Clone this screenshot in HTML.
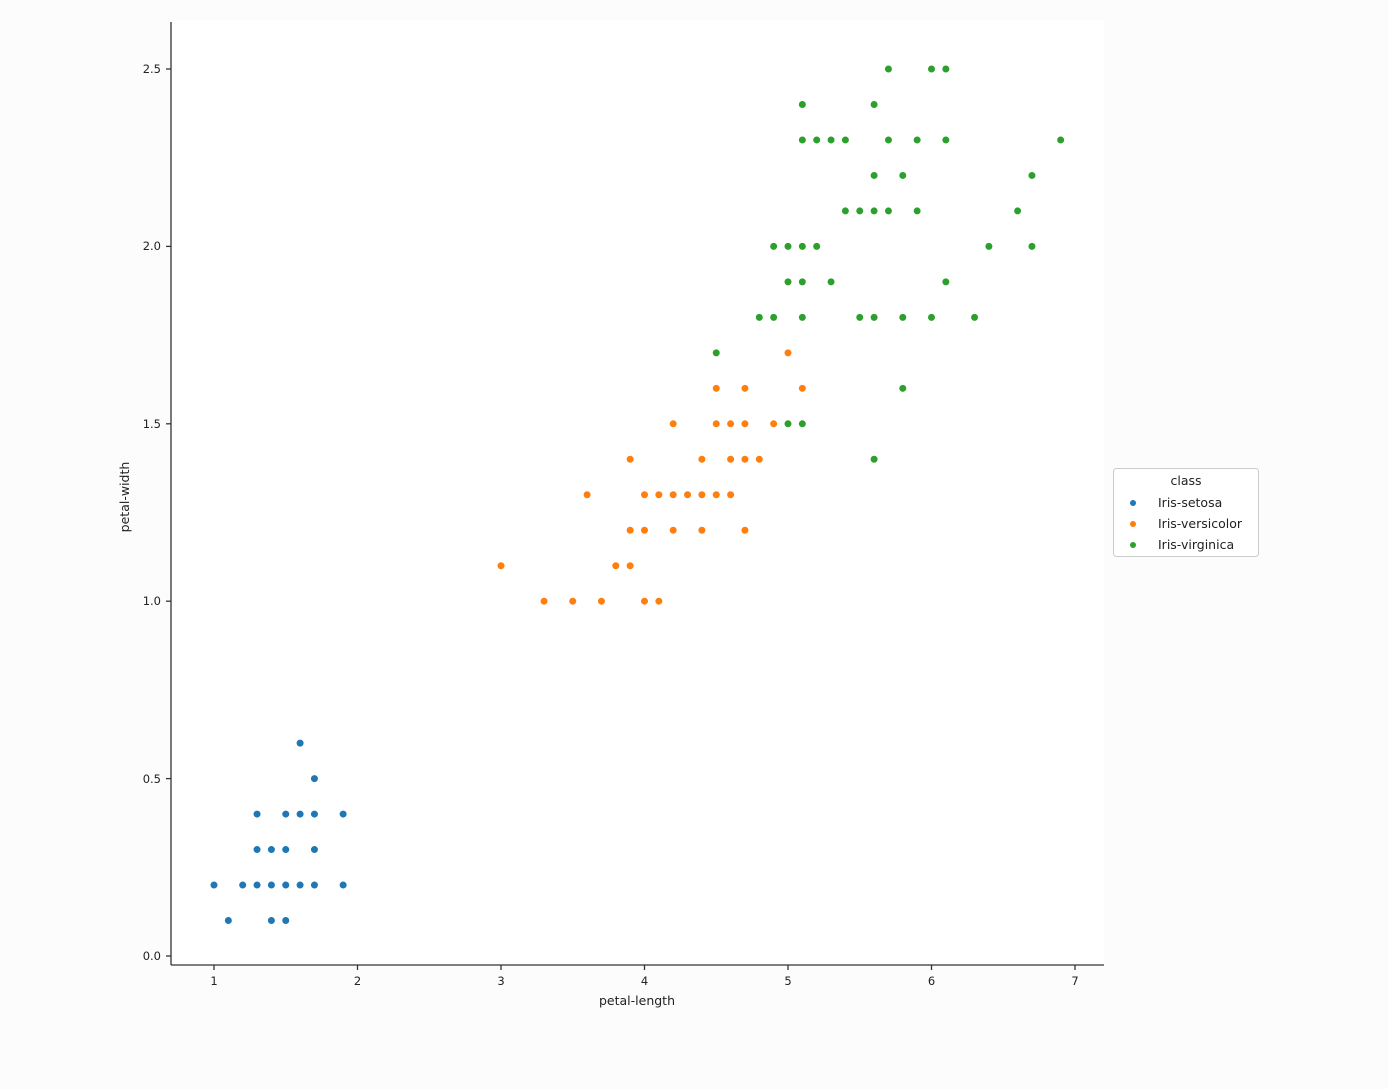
<!DOCTYPE html>
<html><head><style>body{margin:0;background:#fcfcfc}</style></head><body>
<svg width="1388" height="1084" xmlns="http://www.w3.org/2000/svg" font-family="DejaVu Sans, Liberation Sans, sans-serif" font-size="11.5" fill="#222">
<rect x="0" y="0" width="1388" height="1084" fill="#fcfcfc"/>
<rect x="171" y="20" width="933" height="945" fill="#fff"/>
<g transform="translate(70.5,956) scale(143.5,-354.8)" stroke-linecap="round" fill="none">
<path vector-effect="non-scaling-stroke" stroke="#1f77b4" stroke-width="7" d="M1 .2h0M1.2 .2h0M1.3 .2h0M1.4 .2h0M1.5 .2h0M1.6 .2h0M1.7 .2h0M1.9 .2h0M1.1 .1h0M1.4 .1h0M1.5 .1h0M1.3 .3h0M1.4 .3h0M1.5 .3h0M1.7 .3h0M1.3 .4h0M1.5 .4h0M1.6 .4h0M1.7 .4h0M1.9 .4h0M1.7 .5h0M1.6 .6h0"/>
<path vector-effect="non-scaling-stroke" stroke="#ff7f0e" stroke-width="7" d="M3.3 1h0M3.5 1h0M3.7 1h0M4 1h0M4.1 1h0M3 1.1h0M3.8 1.1h0M3.9 1.1h0M3.9 1.2h0M4 1.2h0M4.2 1.2h0M4.4 1.2h0M4.7 1.2h0M3.6 1.3h0M4 1.3h0M4.1 1.3h0M4.2 1.3h0M4.3 1.3h0M4.4 1.3h0M4.5 1.3h0M4.6 1.3h0M3.9 1.4h0M4.4 1.4h0M4.6 1.4h0M4.7 1.4h0M4.8 1.4h0M4.2 1.5h0M4.5 1.5h0M4.6 1.5h0M4.7 1.5h0M4.9 1.5h0M4.5 1.6h0M4.7 1.6h0M5.1 1.6h0M5 1.7h0"/>
<path vector-effect="non-scaling-stroke" stroke="#2ca02c" stroke-width="7" d="M5.6 1.4h0M5 1.5h0M5.1 1.5h0M5.8 1.6h0M4.5 1.7h0M4.8 1.8h0M4.9 1.8h0M5.1 1.8h0M5.5 1.8h0M5.6 1.8h0M5.8 1.8h0M6 1.8h0M6.3 1.8h0M5 1.9h0M5.1 1.9h0M5.3 1.9h0M6.1 1.9h0M4.9 2h0M5 2h0M5.1 2h0M5.2 2h0M6.4 2h0M6.7 2h0M5.4 2.1h0M5.5 2.1h0M5.6 2.1h0M5.7 2.1h0M5.9 2.1h0M6.6 2.1h0M5.6 2.2h0M5.8 2.2h0M6.7 2.2h0M5.1 2.3h0M5.2 2.3h0M5.3 2.3h0M5.4 2.3h0M5.7 2.3h0M5.9 2.3h0M6.1 2.3h0M6.9 2.3h0M5.1 2.4h0M5.6 2.4h0M5.7 2.5h0M6 2.5h0M6.1 2.5h0"/>
</g>
<g stroke="#333" stroke-width="1.3">
<line x1="171" y1="22" x2="171" y2="965"/>
<line x1="171" y1="965" x2="1104" y2="965"/>
<line x1="166" y1="956" x2="171" y2="956"/><line x1="166" y1="778.6" x2="171" y2="778.6"/><line x1="166" y1="601.2" x2="171" y2="601.2"/><line x1="166" y1="423.8" x2="171" y2="423.8"/><line x1="166" y1="246.4" x2="171" y2="246.4"/><line x1="166" y1="69" x2="171" y2="69"/>
<line x1="214" y1="965" x2="214" y2="970"/><line x1="357.5" y1="965" x2="357.5" y2="970"/><line x1="501" y1="965" x2="501" y2="970"/><line x1="644.5" y1="965" x2="644.5" y2="970"/><line x1="788" y1="965" x2="788" y2="970"/><line x1="931.5" y1="965" x2="931.5" y2="970"/><line x1="1075" y1="965" x2="1075" y2="970"/>
</g>
<g text-anchor="end">
<text x="161" y="960">0.0</text><text x="161" y="783">0.5</text><text x="161" y="605">1.0</text><text x="161" y="428">1.5</text><text x="161" y="250">2.0</text><text x="161" y="73">2.5</text>
</g>
<g text-anchor="middle">
<text x="214" y="985">1</text><text x="357.5" y="985">2</text><text x="501" y="985">3</text><text x="644.5" y="985">4</text><text x="788" y="985">5</text><text x="931.5" y="985">6</text><text x="1075" y="985">7</text>
<text x="637" y="1005" font-size="12.5">petal-length</text>
<text transform="translate(129,497) rotate(-90)" font-size="12.5">petal-width</text>
</g>
<rect x="1113.5" y="468.5" width="145" height="88" rx="3" fill="#fff" stroke="#ccc"/>
<text x="1186" y="485" text-anchor="middle" font-size="12.5">class</text>
<circle cx="1133" cy="503" r="3" fill="#1f77b4"/><text x="1158" y="507" font-size="12.5">Iris-setosa</text>
<circle cx="1133" cy="524" r="3" fill="#ff7f0e"/><text x="1158" y="528" font-size="12.5">Iris-versicolor</text>
<circle cx="1133" cy="545" r="3" fill="#2ca02c"/><text x="1158" y="549" font-size="12.5">Iris-virginica</text>
</svg>
</body></html>
